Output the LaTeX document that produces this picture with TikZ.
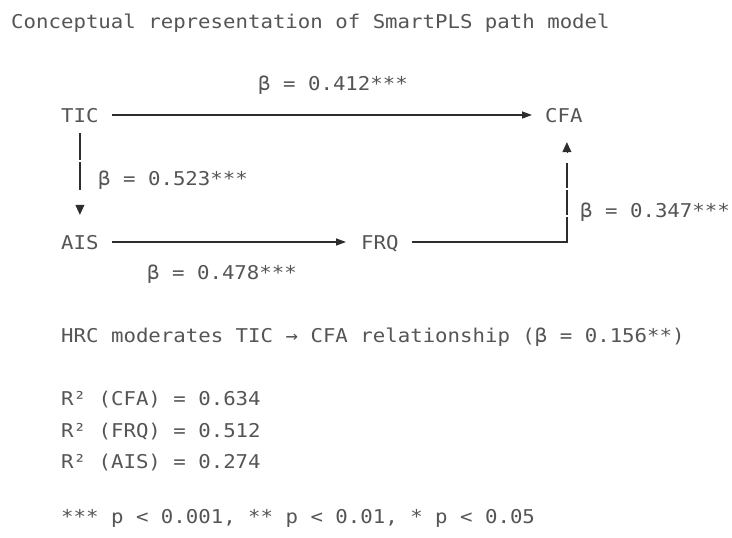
\documentclass[tikz,border=0pt]{standalone}
\usepackage{fontspec}
\newfontfamily\dmono[FakeStretch=1.09]{DejaVu Sans Mono}
\usetikzlibrary{arrows.meta,calc}
\definecolor{txtgray}{RGB}{85,85,85}
\definecolor{lngray}{RGB}{45,45,45}
\tikzset{
 lbl/.style={anchor=base west, inner sep=0pt, font=\dmono\fontsize{19}{23}\selectfont, text=txtgray},
 var/.style={lbl, text height=14pt, text depth=0pt},
 conn/.style={draw=lngray, line width=1.3pt},
 arr/.style={conn, -{Triangle[length=10pt,width=7pt]}},
 tiponly/.style={draw=lngray, fill=lngray, line width=0.6pt, -{Triangle[length=10pt,width=9pt]}},
}
\begin{document}
\begin{tikzpicture}[x=1pt,y=-1pt]
\useasboundingbox[fill=white] (0,0) rectangle (732,538);
\node[lbl] (title) at (11,28) {Conceptual representation of SmartPLS path model};
\node[lbl] (b1) at (258,90) {β = 0.412***};
\node[var] (TIC) at (61,122) {TIC};
\node[var] (CFA) at (545,122) {CFA};
\node[var] (AIS) at (61,249) {AIS};
\node[var] (FRQ) at (361,249) {FRQ};
\node[lbl] (b2) at (98,185) {β = 0.523***};
\node[lbl] (b3) at (580,217) {β = 0.347***};
\node[lbl] (b4) at (147,279) {β = 0.478***};
\node[lbl] (hrc) at (61,342) {HRC moderates TIC → CFA relationship (β = 0.156**)};
\node[lbl] (r1) at (61,405) {R² (CFA) = 0.634};
\node[lbl] (r2) at (61,437) {R² (FRQ) = 0.512};
\node[lbl] (r3) at (61,468) {R² (AIS) = 0.274};
\node[lbl] (foot) at (61,523) {*** p < 0.001, ** p < 0.01, * p < 0.05};
% TIC -> CFA
\draw[arr] ($(TIC.east)+(13,0)$) -- ($(CFA.west)+(-13,0)$);
% AIS -> FRQ
\draw[arr] ($(AIS.east)+(13,0)$) -- ($(FRQ.west)+(-15,0)$);
% TIC -> AIS
\draw[conn] ($(TIC.south)+(0,11)$) -- ($(TIC.south)+(0,38)$);
\draw[conn] ($(TIC.south)+(0,40)$) -- ($(TIC.south)+(0,68)$);
\draw[tiponly] ($(AIS.north)+(0,-30)$) -- ($(AIS.north)+(0,-20)$);
% FRQ -> CFA
\coordinate (corner) at ($(CFA.south |- FRQ.east)+(3,0)$);
\draw[conn, line join=miter] ($(FRQ.east)+(13,0)$) -- (corner) -- ++(0,-25);
\draw[conn] ($(corner)+(0,-27)$) -- ++(0,-25);
\draw[conn] ($(corner)+(0,-54)$) -- ++(0,-25);
\draw[tiponly] ($(CFA.south)+(3,30)$) -- ($(CFA.south)+(3,20)$);
\end{tikzpicture}
\end{document}
